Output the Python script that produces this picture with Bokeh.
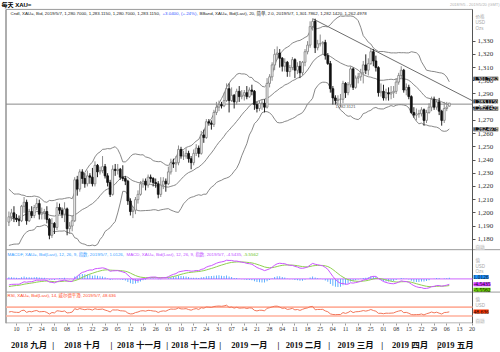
import numpy as np
import pandas as pd
from bokeh.plotting import figure
from bokeh.models import (Range1d, LinearAxis, FixedTicker, Label,
                          ColumnDataSource, NumeralTickFormatter, Grid)
from bokeh.embed import file_html
from bokeh.resources import INLINE

# ------------------------------------------------------------------ data
dates = pd.bdate_range("2018-09-05", "2019-05-07")        # candles
axis_dates = pd.bdate_range("2018-09-05", "2019-05-20")   # visible date axis

open_ = [
    # Sep 2018
    1193, 1197, 1200, 1196, 1195, 1194, 1205, 1208, 1194, 1201, 1198, 1204, 1207, 1199, 1200, 1201, 1195, 1183,
    # Oct
    1192, 1189, 1204, 1202, 1199, 1203, 1188, 1190, 1194, 1225, 1218, 1231, 1226, 1222, 1228, 1227, 1222, 1236, 1231, 1232, 1235, 1228, 1223,
    # Nov
    1214, 1233, 1232, 1233, 1227, 1226, 1224, 1209, 1201, 1202, 1210, 1214, 1222, 1224, 1221, 1227, 1226, 1223, 1222, 1214, 1221, 1224,
    # Dec
    1222, 1231, 1238, 1237, 1238, 1248, 1243, 1243, 1245, 1241, 1238, 1245, 1249, 1245, 1259, 1257, 1269, 1268, 1267, 1276, 1280,
    # Jan 2019
    1282, 1281, 1285, 1294, 1285, 1289, 1284, 1292, 1288, 1289, 1291, 1288, 1293, 1292, 1282, 1279, 1283, 1283, 1280, 1298, 1303, 1312, 1320,
    # Feb
    1321, 1317, 1311, 1314, 1307, 1310, 1316, 1308, 1311, 1306, 1314, 1322, 1327, 1341, 1345, 1325, 1328, 1328, 1329, 1319,
    # Mar
    1313, 1294, 1287, 1285, 1286, 1286, 1298, 1291, 1297, 1309, 1295, 1302, 1303, 1306, 1312, 1308, 1313, 1322, 1315, 1310, 1291,
    # Apr
    1292, 1287, 1291, 1290, 1291, 1292, 1299, 1304, 1308, 1293, 1295, 1288, 1276, 1274, 1275, 1275, 1278, 1270, 1276, 1280, 1286, 1280,
    # May
    1284, 1277, 1270, 1279, 1280.7,
]
high = [
    1201, 1203, 1205, 1199, 1198, 1206, 1212, 1210, 1203, 1205, 1206, 1211, 1210, 1204, 1203, 1205, 1196, 1196,
    1193, 1208, 1207, 1204, 1208, 1204, 1193, 1198, 1227, 1228, 1233, 1233, 1230, 1232, 1230, 1234, 1239, 1237, 1235, 1243, 1237, 1230, 1225,
    1236, 1237, 1237, 1234, 1236, 1228, 1225, 1211, 1205, 1212, 1217, 1224, 1226, 1226, 1229, 1229, 1227, 1226, 1224, 1227, 1227, 1226,
    1235, 1241, 1241, 1243, 1251, 1250, 1247, 1249, 1247, 1243, 1248, 1252, 1251, 1262, 1263, 1271, 1271, 1270, 1278, 1284, 1285,
    1284, 1291, 1298, 1298, 1295, 1290, 1294, 1296, 1293, 1293, 1296, 1295, 1297, 1293, 1284, 1285, 1286, 1286, 1302, 1305, 1314, 1324, 1326,
    1324, 1318, 1317, 1315, 1312, 1318, 1317, 1314, 1315, 1315, 1324, 1330, 1345, 1347, 1347, 1331, 1335, 1330, 1331, 1321,
    1315, 1296, 1289, 1289, 1290, 1300, 1299, 1299, 1311, 1310, 1304, 1306, 1309, 1315, 1320, 1317, 1324, 1324, 1319, 1311, 1298,
    1297, 1294, 1295, 1296, 1296, 1302, 1306, 1311, 1309, 1298, 1297, 1289, 1280, 1279, 1278, 1280, 1279, 1278, 1283, 1288, 1288, 1286,
    1287, 1278, 1284, 1284, 1283.115,
]
low = [
    1190, 1194, 1193, 1193, 1190, 1193, 1200, 1191, 1193, 1196, 1196, 1202, 1195, 1195, 1195, 1192, 1180, 1181,
    1184, 1187, 1199, 1196, 1193, 1183, 1184, 1186, 1193, 1213, 1216, 1222, 1219, 1220, 1222, 1220, 1220, 1227, 1229, 1230, 1226, 1220, 1212,
    1213, 1228, 1229, 1225, 1224, 1221, 1206, 1198, 1196, 1199, 1207, 1213, 1219, 1217, 1219, 1223, 1220, 1219, 1211, 1212, 1218, 1216,
    1221, 1229, 1234, 1231, 1236, 1241, 1240, 1241, 1238, 1233, 1236, 1243, 1242, 1244, 1253, 1256, 1266, 1263, 1265, 1274, 1277,
    1279, 1280, 1284, 1276, 1284, 1279, 1282, 1284, 1286, 1285, 1286, 1287, 1289, 1278, 1276, 1277, 1278, 1276, 1279, 1295, 1300, 1308, 1316,
    1310, 1307, 1307, 1303, 1303, 1308, 1302, 1305, 1302, 1304, 1311, 1320, 1325, 1338, 1321, 1323, 1326, 1320, 1316, 1312,
    1291, 1282, 1282, 1282, 1280, 1283, 1287, 1289, 1295, 1293, 1294, 1298, 1300, 1298, 1305, 1304, 1312, 1311, 1307, 1288, 1288,
    1285, 1285, 1285, 1286, 1287, 1290, 1297, 1302, 1291, 1289, 1286, 1275, 1272, 1270, 1272, 1273, 1266, 1268, 1275, 1277, 1278, 1278,
    1274, 1266, 1268, 1277, 1280.7,
]
close = [
    1197, 1200, 1196, 1195, 1194, 1205, 1208, 1194, 1201, 1198, 1204, 1207, 1199, 1200, 1201, 1195, 1183, 1192,
    1189, 1204, 1202, 1199, 1203, 1188, 1190, 1194, 1225, 1218, 1231, 1226, 1222, 1228, 1227, 1222, 1236, 1231, 1232, 1235, 1228, 1223, 1214,
    1233, 1232, 1233, 1227, 1226, 1224, 1209, 1201, 1202, 1210, 1214, 1222, 1224, 1221, 1227, 1226, 1223, 1222, 1214, 1221, 1224, 1222,
    1231, 1238, 1237, 1238, 1248, 1243, 1243, 1245, 1241, 1238, 1245, 1249, 1245, 1259, 1257, 1269, 1268, 1267, 1276, 1280, 1282,
    1281, 1285, 1294, 1285, 1289, 1284, 1292, 1288, 1289, 1291, 1288, 1293, 1292, 1282, 1279, 1283, 1283, 1280, 1298, 1303, 1312, 1320, 1321,
    1317, 1311, 1314, 1307, 1310, 1316, 1308, 1311, 1306, 1314, 1322, 1327, 1341, 1345, 1325, 1328, 1328, 1329, 1319, 1313,
    1294, 1287, 1285, 1286, 1286, 1298, 1291, 1297, 1309, 1295, 1302, 1303, 1306, 1312, 1308, 1313, 1322, 1315, 1310, 1291, 1292,
    1287, 1291, 1290, 1291, 1292, 1299, 1304, 1308, 1293, 1295, 1288, 1276, 1274, 1275, 1275, 1278, 1270, 1276, 1280, 1286, 1280, 1284,
    1277, 1270, 1279, 1280.075, 1283.115,
]
# closes of Jul 2 - Sep 4 2018 (indicator warm-up only, not drawn)
prior_close = [
    1242, 1253, 1253, 1256, 1255, 1258, 1255, 1245, 1246, 1241, 1240, 1227, 1224, 1224, 1231, 1224, 1227, 1232, 1222, 1223, 1220, 1224,
    1217, 1209, 1214, 1208, 1213, 1214, 1212, 1211, 1194, 1193, 1174, 1178, 1184, 1190, 1196, 1195, 1186, 1206, 1211, 1211, 1204, 1202, 1201,
    1194, 1193,
]

price_ticks = [1180, 1190, 1200, 1210, 1220, 1230, 1240, 1250, 1260, 1270, 1280, 1290, 1300, 1310, 1320, 1330]
month_names = ["2018 九月", "2018 十月", "2018 十一月", "2018 十二月", "2019 一月",
               "2019 二月", "2019 三月", "2019 四月", "2019 五月"]

hline_price = 1282.3121
trend_dates = ["2019-02-20", "2019-05-20"]
trend_prices = [1347.0, 1285.0]

# ------------------------------------------------------------------ indicators
n = len(close)
allc = pd.Series(prior_close + close, dtype=float)
mid = allc.rolling(20).mean()
sd = allc.rolling(20).std(ddof=0)
bb_up = (mid + 2 * sd).iloc[-n:].values
bb_mid = mid.iloc[-n:].values
bb_lo = (mid - 2 * sd).iloc[-n:].values
ema12 = allc.ewm(span=12, adjust=False).mean()
ema26 = allc.ewm(span=26, adjust=False).mean()
macd_all = ema12 - ema26
sig_all = macd_all.ewm(span=9, adjust=False).mean()
macd = macd_all.iloc[-n:].values
sig = sig_all.iloc[-n:].values
hist = macd - sig
d = allc.diff()
g = d.clip(lower=0).ewm(alpha=1 / 14, adjust=False).mean()
l = (-d.clip(upper=0)).ewm(alpha=1 / 14, adjust=False).mean()
rsi = (100 - 100 / (1 + g / l)).iloc[-n:].values

# ------------------------------------------------------------------ geometry (pixels)
W, H = 500, 352
FB = 326                      # bottom of plotting frame (date axes below)
PL, PR, PT = 5.5, 472, 9      # panel box: left, right, top
X_ORIGIN, PX_DAY = 8.4, 2.531
PXP = 1.333
M_ZERO, M_PX = 281.0, 1.27
R70, R30 = 309.5, 318.5
R_PX = (R30 - R70) / 40.0


def xi(px):
    return (px - X_ORIGIN) / PX_DAY


def yp(py):
    return 1270 + (121 - py) / PXP


idx = list(range(n))
pos = {dt: k for k, dt in enumerate(axis_dates)}

p = figure(width=W, height=H, output_backend="svg", toolbar_location=None,
           x_range=Range1d(xi(0), xi(W)), y_range=Range1d(yp(FB), yp(0)),
           x_axis_location=None, y_axis_location=None,
           min_border_left=0, min_border_right=0, min_border_top=0, min_border_bottom=H - FB)
p.extra_y_ranges = {
    "macd": Range1d(-(FB - M_ZERO) / M_PX, M_ZERO / M_PX),
    "rsi": Range1d(30 - (FB - R30) / R_PX, 70 + R70 / R_PX),
}
for gr in p.select(type=Grid):
    gr.visible = False
p.outline_line_color = None
p.background_fill_color = "white"
p.border_fill_color = "white"

# panel frame and separators
BOX = "#9a9a9a"
p.line([xi(PL), xi(PL)], [yp(PT), yp(FB)], line_color=BOX, line_width=1.6)
p.line([xi(PL), xi(PR)], [yp(PT), yp(PT)], line_color=BOX, line_width=1)
p.line([xi(PL), xi(PR)], [yp(FB - 0.5), yp(FB - 0.5)], line_color=BOX, line_width=1)
for py in (251.5, 294.3):
    p.line([xi(PL), xi(W)], [yp(py), yp(py)], line_color=BOX, line_width=1)
p.line([xi(PR), xi(PR)], [yp(PT), yp(FB)], line_color="#555555", line_width=1)

# Bollinger bands
for arr in (bb_up, bb_mid, bb_lo):
    p.line(idx, arr, line_color="#7a7a7a", line_width=0.9)

# horizontal level and trend line
p.line([xi(PL), xi(PR)], [hline_price, hline_price], line_color="#8a8a8a", line_width=1)
p.line([pos[pd.Timestamp(t)] for t in trend_dates], trend_prices, line_color="#6e6e6e", line_width=1)

# candles
up = [c >= o for o, c in zip(open_, close)]
src = ColumnDataSource(dict(
    i=idx, h=high, l=low,
    top=[max(o, c) for o, c in zip(open_, close)],
    bot=[min(o, c) for o, c in zip(open_, close)],
    fill=["white" if u else "#111111" for u in up],
    edge=["#7c7c7c" if u else "#111111" for u in up],
    wick=["#8c8c8c" if u else "#222222" for u in up],
))
p.segment(x0="i", y0="l", x1="i", y1="h", line_color="wick", line_width=1, source=src)
p.vbar(x="i", width=0.72, top="top", bottom="bot", fill_color="fill", line_color="edge",
       line_width=0.8, source=src)

# MACD panel
p.line([xi(PL), xi(PR)], [0, 0], line_color="#cc66ff", line_width=1, y_range_name="macd")
p.vbar(x=idx, width=0.35, top=hist, bottom=0, fill_color="#4da6ff", line_color=None, y_range_name="macd")
p.line(idx, sig, line_color="#8fd14f", line_width=1, y_range_name="macd")
p.line(idx, macd, line_color="#cc55ff", line_width=1, y_range_name="macd")

# RSI panel
for lv in (70, 30):
    p.line([xi(PL), xi(PR)], [lv, lv], line_color="#ffb09c", line_width=1.6, y_range_name="rsi")
p.line(idx, rsi, line_color="#f2765a", line_width=1, y_range_name="rsi")

# price axis, drawn at the right edge of the panel box
pax = LinearAxis(ticker=FixedTicker(ticks=price_ticks), formatter=NumeralTickFormatter(format="0,0"),
                 fixed_location=xi(PR),
                 major_label_text_font_size="7px", major_label_text_font="Liberation Serif",
                 major_label_text_color="#333333", axis_line_color=None,
                 major_tick_line_color="#555555", major_tick_out=3, major_tick_in=0,
                 minor_tick_line_color=None, major_label_standoff=2)
p.add_layout(pax, "right")

# date axes (below)
mondays = [k for k, dt in enumerate(axis_dates) if dt.weekday() == 0]
day_axis = LinearAxis(ticker=FixedTicker(ticks=mondays),
                      major_label_overrides={k: axis_dates[k].strftime("%d") for k in mondays},
                      major_label_text_font_size="6px", major_label_text_font="Liberation Serif",
                      major_label_text_color="#333333", axis_line_color=None,
                      major_tick_line_color="#999999", major_tick_out=2, major_tick_in=0,
                      minor_tick_line_color=None, major_label_standoff=1)
p.add_layout(day_axis, "below")

starts = [k for k, dt in enumerate(axis_dates) if k > 0 and dt.month != axis_dates[k - 1].month]
bounds = [k - 0.5 for k in starts]
edges = [xi(PL)] + bounds + [xi(PR)]
mids = [round((edges[j] + edges[j + 1])) / 2 for j in range(len(edges) - 1)]
mids = [int(m) if float(m).is_integer() else m for m in mids]
m_over = {m: t for m, t in zip(mids, month_names)}
m_over.update({b: "|" for b in bounds})
month_axis = LinearAxis(ticker=FixedTicker(ticks=mids + bounds), major_label_overrides=m_over,
                        major_label_text_font_size="8.5px",
                        major_label_text_font="Liberation Serif, Noto Sans CJK SC",
                        major_label_text_font_style="bold", major_label_text_color="#111111",
                        axis_line_color=None, major_tick_line_color=None, minor_tick_line_color=None,
                        major_label_standoff=0)
p.add_layout(month_axis, "below")

# ------------------------------------------------------------------ texts
SANS = "Liberation Sans, Noto Sans CJK SC"


def lab(px, py, text, color="#222222", size="4.4px", font=SANS, bg=None, style="normal", align="left"):
    kw = dict(x=xi(px), y=yp(py), text=text, text_color=color, text_font_size=size, text_font=font,
              text_baseline="middle", text_align=align, text_font_style=style)
    if bg is not None:
        kw.update(background_fill_color=bg)
    p.add_layout(Label(**kw))


lab(1, 4.5, "每天 XAU=", color="#000000", size="6px", style="bold")
lab(499, 4.5, "2018/9/5 - 2019/5/20 (GMT)", color="#b0b0b0", size="4px", align="right")

lab(10, 13.5, "Cndl, XAU=, Bid, 2019/5/7, 1,280.7000, 1,283.1150, 1,280.7000, 1,283.1150,")
lab(162, 13.5, "+3.0400, (+.24%),", color="#3355ff")
lab(199, 13.5, "BBand, XAU=, Bid(Last), 20, 简单, 2.0, 2019/5/7, 1,301.7862, 1,282.1420, 1,262.4978")
lab(335, 107, "1,282.3121", color="#555555", size="4px")

lab(7, 256, "MACDF, XAU=, Bid(Last), 12, 26, 9, 指数, 2019/5/7, 1.0126,", color="#3aa0ff")
lab(126, 256, "MACD, XAU=, Bid(Last), 12, 26, 9, 指数, 2019/5/7, -4.5435,", color="#c050ff")
lab(243, 256, "-5.5562", color="#66c21e")
lab(7, 298, "RSI, XAU=, Bid(Last), 14, 威尔德平滑, 2019/5/7, 48.636", color="#ff4a26")

for py, t in ((16, "价格"), (22, "USD"), (28, "Ozs"), (262, "值"), (268, "USD"), (274, "Ozs"),
              (302, "值"), (308, "USD")):
    lab(475, py, t, color="#a8a8a8", size="4.5px")
for py in (249, 323.5):
    lab(475, py, "自动", color="#b8b8b8", size="4.5px", bg="#eeeeee")

for py, t, bg, fg in ((79, "1,301.7862", "#111111", "white"),
                      (102, "1,283.1150", "#111111", "white"),
                      (109, "1,282.1420", "#111111", "white"),
                      (130, "1,262.4978", "#111111", "white"),
                      (279, "1.0126", "#1e90ff", "#111111"),
                      (286.5, "-4.5435", "#cc33ff", "#111111"),
                      (292, "-5.5562", "#66cc00", "#111111"),
                      (314, "48.636", "#ff3300", "#111111")):
    lab(473, py, t, color=fg, size="5.5px", font="Liberation Serif", bg=bg)

open("out.html", "w").write(file_html(p, INLINE))
